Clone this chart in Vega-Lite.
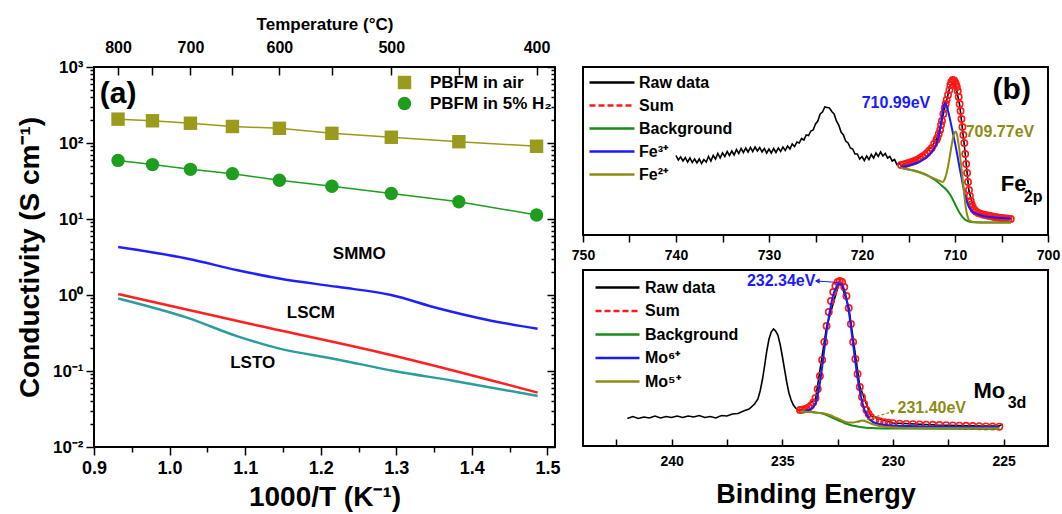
{
  "$schema": "https://vega.github.io/schema/vega-lite/v6.json",
  "background": "white",
  "padding": {"left": 15, "top": 14, "right": 0, "bottom": 5},
  "bounds": "flush",
  "spacing": 28,
  "datasets": {
    "lines": [
      {"s":"SMMO","x":0.932,"y":4.27},{"s":"SMMO","x":1.024,"y":3.0},{"s":"SMMO","x":1.09,"y":2.12},{"s":"SMMO","x":1.145,"y":1.65},{"s":"SMMO","x":1.222,"y":1.28},{"s":"SMMO","x":1.293,"y":1.0},{"s":"SMMO","x":1.355,"y":0.67},{"s":"SMMO","x":1.421,"y":0.47},{"s":"SMMO","x":1.487,"y":0.36},
      {"s":"LSCM","x":0.932,"y":1.03},{"s":"LSCM","x":1.112,"y":0.406},{"s":"LSCM","x":1.29,"y":0.165},{"s":"LSCM","x":1.487,"y":0.052},
      {"s":"LSTO","x":0.932,"y":0.9},{"s":"LSTO","x":1.024,"y":0.5},{"s":"LSTO","x":1.09,"y":0.286},{"s":"LSTO","x":1.143,"y":0.2},{"s":"LSTO","x":1.222,"y":0.142},{"s":"LSTO","x":1.297,"y":0.1},{"s":"LSTO","x":1.377,"y":0.074},{"s":"LSTO","x":1.487,"y":0.047}
    ],
    "pbfm": [
      {"s":"PBFM in air","x":0.9318,"y":206},{"s":"PBFM in air","x":0.9774,"y":196},{"s":"PBFM in air","x":1.0276,"y":182},{"s":"PBFM in air","x":1.0832,"y":165},{"s":"PBFM in air","x":1.1453,"y":156},{"s":"PBFM in air","x":1.2148,"y":134},{"s":"PBFM in air","x":1.2934,"y":119},{"s":"PBFM in air","x":1.3828,"y":104},{"s":"PBFM in air","x":1.4856,"y":90.6},
      {"s":"PBFM in 5% H₂","x":0.9318,"y":59},{"s":"PBFM in 5% H₂","x":0.9774,"y":52},{"s":"PBFM in 5% H₂","x":1.0276,"y":45},{"s":"PBFM in 5% H₂","x":1.0832,"y":39.5},{"s":"PBFM in 5% H₂","x":1.1453,"y":32.4},{"s":"PBFM in 5% H₂","x":1.2148,"y":27},{"s":"PBFM in 5% H₂","x":1.2934,"y":21.6},{"s":"PBFM in 5% H₂","x":1.3828,"y":16.9},{"s":"PBFM in 5% H₂","x":1.4856,"y":11.3}
    ],
    "labA": [{"t":"SMMO","x":1.251,"y":3.49},{"t":"LSCM","x":1.187,"y":0.575},{"t":"LSTO","x":1.11,"y":0.129}],
    "feRaw": [
      {"e":740.0,"i":79.5},{"e":739.75,"i":75},{"e":739.5,"i":78},{"e":739.25,"i":74},{"e":739.0,"i":77.5},{"e":738.75,"i":73},{"e":738.5,"i":77},{"e":738.25,"i":72.5},{"e":738.0,"i":76},{"e":737.75,"i":72},{"e":737.5,"i":76},{"e":737.25,"i":71.5},{"e":737.0,"i":75.5},{"e":736.75,"i":73},{"e":736.5,"i":78.5},{"e":736.25,"i":74},{"e":736.0,"i":79.5},{"e":735.75,"i":76},{"e":735.5,"i":81.5},{"e":735.25,"i":77},{"e":735.0,"i":82},{"e":734.75,"i":78.5},{"e":734.5,"i":83.5},{"e":734.25,"i":79.5},{"e":734.0,"i":84},{"e":733.75,"i":80},{"e":733.5,"i":85.5},{"e":733.25,"i":81.5},{"e":733.0,"i":86.5},{"e":732.75,"i":82.5},{"e":732.5,"i":87},{"e":732.25,"i":83},{"e":732.0,"i":87.5},{"e":731.75,"i":83.5},{"e":731.5,"i":88},{"e":731.25,"i":84},{"e":731.0,"i":87.5},{"e":730.75,"i":83},{"e":730.5,"i":86.5},{"e":730.25,"i":82},{"e":730.0,"i":86},{"e":729.75,"i":82},{"e":729.5,"i":86.5},{"e":729.25,"i":82.5},{"e":729.0,"i":87},{"e":728.75,"i":83.5},{"e":728.5,"i":88},{"e":728.25,"i":84.5},{"e":728.0,"i":89},{"e":727.75,"i":86},{"e":727.5,"i":91},{"e":727.25,"i":88.5},{"e":727.0,"i":93},{"e":726.75,"i":92},{"e":726.5,"i":96.5},{"e":726.25,"i":95},{"e":726.0,"i":100},{"e":725.75,"i":99.5},{"e":725.5,"i":104},{"e":725.25,"i":105},{"e":725.0,"i":111},{"e":724.75,"i":114},{"e":724.5,"i":121},{"e":724.25,"i":123},{"e":724.0,"i":128},{"e":723.75,"i":127.5},{"e":723.5,"i":127},{"e":723.25,"i":123.5},{"e":723.0,"i":121},{"e":722.75,"i":114},{"e":722.5,"i":110},{"e":722.25,"i":103},{"e":722.0,"i":100},{"e":721.75,"i":94},{"e":721.5,"i":92},{"e":721.25,"i":87},{"e":721.0,"i":86},{"e":720.75,"i":81},{"e":720.5,"i":81},{"e":720.25,"i":76},{"e":720.0,"i":78.5},{"e":719.75,"i":74.5},{"e":719.5,"i":79},{"e":719.25,"i":75.5},{"e":719.0,"i":80.5},{"e":718.75,"i":77},{"e":718.5,"i":82},{"e":718.25,"i":78.5},{"e":718.0,"i":83},{"e":717.75,"i":79},{"e":717.5,"i":81.5},{"e":717.25,"i":77},{"e":717.0,"i":78.5},{"e":716.75,"i":74},{"e":716.5,"i":75.5},{"e":716.25,"i":70.5},{"e":716.0,"i":72},{"e":715.75,"i":69},{"e":715.5,"i":71},{"e":715.0,"i":72.5},{"e":714.5,"i":74},{"e":714.0,"i":76.5},{"e":713.5,"i":80},{"e":713.0,"i":84},{"e":712.5,"i":88},{"e":712.0,"i":96},{"e":711.5,"i":111},{"e":711.0,"i":131},{"e":710.5,"i":150},{"e":710.0,"i":153},{"e":709.5,"i":130},{"e":709.0,"i":90},{"e":708.5,"i":44},{"e":708.0,"i":27},{"e":707.5,"i":23},{"e":707.0,"i":21},{"e":706.5,"i":20.5},{"e":706.0,"i":18},{"e":705.5,"i":19.5},{"e":705.0,"i":17},{"e":704.5,"i":18},{"e":704.0,"i":16}
    ],
    "feSum": [
      {"e":715.8,"i":70},{"e":715.5,"i":70.5},{"e":715.25,"i":71.2},{"e":715.0,"i":72},{"e":714.75,"i":72.7},{"e":714.5,"i":73.5},{"e":714.25,"i":74.5},{"e":714.0,"i":75.5},{"e":713.75,"i":77},{"e":713.5,"i":78.5},{"e":713.25,"i":80},{"e":713.0,"i":82},{"e":712.75,"i":84.5},{"e":712.5,"i":87},{"e":712.25,"i":91},{"e":712.0,"i":95},{"e":711.9,"i":97},{"e":711.75,"i":101},{"e":711.6,"i":105},{"e":711.5,"i":110},{"e":711.4,"i":114},{"e":711.25,"i":121},{"e":711.1,"i":127},{"e":711.0,"i":131},{"e":710.9,"i":135},{"e":710.75,"i":140},{"e":710.6,"i":145},{"e":710.5,"i":150},{"e":710.4,"i":153},{"e":710.25,"i":155},{"e":710.1,"i":154.5},{"e":710.0,"i":153},{"e":709.9,"i":151},{"e":709.8,"i":148},{"e":709.7,"i":144},{"e":709.6,"i":138},{"e":709.5,"i":131},{"e":709.4,"i":124},{"e":709.3,"i":116},{"e":709.2,"i":108},{"e":709.1,"i":100},{"e":709.0,"i":92},{"e":708.9,"i":81},{"e":708.8,"i":71},{"e":708.7,"i":62},{"e":708.6,"i":53},{"e":708.5,"i":45},{"e":708.4,"i":39},{"e":708.3,"i":34},{"e":708.2,"i":30.5},{"e":708.1,"i":28},{"e":708.0,"i":26},{"e":707.9,"i":24.8},{"e":707.75,"i":23.5},{"e":707.5,"i":22},{"e":707.25,"i":21.2},{"e":707.0,"i":20.5},{"e":706.75,"i":20},{"e":706.5,"i":19.5},{"e":706.25,"i":19},{"e":706.0,"i":18.5},{"e":705.75,"i":18},{"e":705.5,"i":17.7},{"e":705.25,"i":17.4},{"e":705.0,"i":17.1},{"e":704.75,"i":16.8},{"e":704.5,"i":16.5},{"e":704.25,"i":16.2},{"e":704.0,"i":16}
    ],
    "feFit": [
      {"s":"Background","e":715.8,"i":67},{"s":"Background","e":715,"i":65.5},{"s":"Background","e":714,"i":63.5},{"s":"Background","e":713,"i":60},{"s":"Background","e":712.5,"i":57},{"s":"Background","e":712,"i":54},{"s":"Background","e":711.5,"i":50},{"s":"Background","e":711.25,"i":48},{"s":"Background","e":711,"i":46},{"s":"Background","e":710.5,"i":40},{"s":"Background","e":710,"i":31},{"s":"Background","e":709.5,"i":22},{"s":"Background","e":709,"i":16},{"s":"Background","e":708.5,"i":13.5},{"s":"Background","e":708,"i":12.8},{"s":"Background","e":707,"i":12.5},{"s":"Background","e":704,"i":12.5},
      {"s":"Fe³⁺","e":715.8,"i":67.5},{"s":"Fe³⁺","e":715,"i":69.5},{"s":"Fe³⁺","e":714,"i":72.5},{"s":"Fe³⁺","e":713.5,"i":75},{"s":"Fe³⁺","e":713,"i":78},{"s":"Fe³⁺","e":712.5,"i":83},{"s":"Fe³⁺","e":712.25,"i":86.5},{"s":"Fe³⁺","e":712,"i":91},{"s":"Fe³⁺","e":711.75,"i":99},{"s":"Fe³⁺","e":711.5,"i":112},{"s":"Fe³⁺","e":711.3,"i":125},{"s":"Fe³⁺","e":711.1,"i":132},{"s":"Fe³⁺","e":710.95,"i":130},{"s":"Fe³⁺","e":710.75,"i":124},{"s":"Fe³⁺","e":710.5,"i":114},{"s":"Fe³⁺","e":710.25,"i":103},{"s":"Fe³⁺","e":710.0,"i":92},{"s":"Fe³⁺","e":709.75,"i":80},{"s":"Fe³⁺","e":709.5,"i":67},{"s":"Fe³⁺","e":709.25,"i":55},{"s":"Fe³⁺","e":709.0,"i":43},{"s":"Fe³⁺","e":708.75,"i":34},{"s":"Fe³⁺","e":708.5,"i":28},{"s":"Fe³⁺","e":708.25,"i":24.5},{"s":"Fe³⁺","e":708,"i":22.5},{"s":"Fe³⁺","e":707.5,"i":20.5},{"s":"Fe³⁺","e":707,"i":19},{"s":"Fe³⁺","e":706,"i":17.8},{"s":"Fe³⁺","e":705,"i":17},{"s":"Fe³⁺","e":704,"i":16.5},
      {"s":"Fe²⁺","e":715.8,"i":67},{"s":"Fe²⁺","e":715,"i":65.5},{"s":"Fe²⁺","e":714.5,"i":64.5},{"s":"Fe²⁺","e":714,"i":63},{"s":"Fe²⁺","e":713.5,"i":61.5},{"s":"Fe²⁺","e":713,"i":59.5},{"s":"Fe²⁺","e":712.5,"i":57.5},{"s":"Fe²⁺","e":712,"i":55.5},{"s":"Fe²⁺","e":711.6,"i":54},{"s":"Fe²⁺","e":711.3,"i":53},{"s":"Fe²⁺","e":711.1,"i":56},{"s":"Fe²⁺","e":710.9,"i":62},{"s":"Fe²⁺","e":710.7,"i":71},{"s":"Fe²⁺","e":710.5,"i":82},{"s":"Fe²⁺","e":710.3,"i":93},{"s":"Fe²⁺","e":710.1,"i":101},{"s":"Fe²⁺","e":709.95,"i":103.5},{"s":"Fe²⁺","e":709.8,"i":101},{"s":"Fe²⁺","e":709.6,"i":90},{"s":"Fe²⁺","e":709.4,"i":75},{"s":"Fe²⁺","e":709.2,"i":58},{"s":"Fe²⁺","e":709.0,"i":40},{"s":"Fe²⁺","e":708.8,"i":25},{"s":"Fe²⁺","e":708.6,"i":17},{"s":"Fe²⁺","e":708.4,"i":14},{"s":"Fe²⁺","e":708,"i":13},{"s":"Fe²⁺","e":707,"i":12.6},{"s":"Fe²⁺","e":706,"i":12.5},{"s":"Fe²⁺","e":704,"i":12.5}
    ],
    "moRaw": [
      {"e":242.0,"i":27.5},{"e":241.75,"i":29.5},{"e":241.5,"i":27.5},{"e":241.25,"i":29},{"e":241.0,"i":28},{"e":240.75,"i":30},{"e":240.5,"i":28},{"e":240.25,"i":29.5},{"e":240.0,"i":28.5},{"e":239.75,"i":30},{"e":239.5,"i":28.5},{"e":239.25,"i":30},{"e":239.0,"i":29},{"e":238.75,"i":30.5},{"e":238.5,"i":28.5},{"e":238.25,"i":29.5},{"e":238.0,"i":28},{"e":237.75,"i":30.5},{"e":237.5,"i":30},{"e":237.25,"i":32},{"e":237.0,"i":32.5},{"e":236.75,"i":35},{"e":236.5,"i":37},{"e":236.25,"i":42},{"e":236.1,"i":47},{"e":236.0,"i":55},{"e":235.9,"i":66},{"e":235.8,"i":80},{"e":235.7,"i":95},{"e":235.6,"i":107},{"e":235.5,"i":114},{"e":235.4,"i":117},{"e":235.3,"i":115},{"e":235.2,"i":111},{"e":235.1,"i":102},{"e":235.0,"i":90},{"e":234.9,"i":77},{"e":234.8,"i":64},{"e":234.7,"i":53},{"e":234.6,"i":46},{"e":234.5,"i":41},{"e":234.4,"i":38},{"e":234.3,"i":36},{"e":234.2,"i":35.5},{"e":233.5,"i":47},{"e":233.0,"i":119},{"e":232.4,"i":166},{"e":232.0,"i":139},{"e":231.5,"i":60},{"e":231.0,"i":30},{"e":230.0,"i":23},{"e":228.0,"i":21},{"e":226.0,"i":20},{"e":225.2,"i":20},{"e":225.05,"i":22}
    ],
    "moSum": [
      {"e":234.2,"i":36},{"e":234.1,"i":36.3},{"e":234.0,"i":36.7},{"e":233.9,"i":37.5},{"e":233.8,"i":38.5},{"e":233.7,"i":40.5},{"e":233.6,"i":43.5},{"e":233.5,"i":48},{"e":233.4,"i":57},{"e":233.3,"i":70},{"e":233.2,"i":86},{"e":233.1,"i":104},{"e":233.0,"i":120},{"e":232.9,"i":134},{"e":232.8,"i":145},{"e":232.7,"i":154},{"e":232.6,"i":160},{"e":232.5,"i":164},{"e":232.4,"i":165},{"e":232.3,"i":164},{"e":232.2,"i":159},{"e":232.1,"i":150},{"e":232.0,"i":138},{"e":231.9,"i":122},{"e":231.8,"i":104},{"e":231.7,"i":87},{"e":231.6,"i":72},{"e":231.5,"i":59},{"e":231.4,"i":49},{"e":231.3,"i":42},{"e":231.2,"i":36},{"e":231.1,"i":32},{"e":231.0,"i":29},{"e":230.8,"i":26},{"e":230.6,"i":24.7},{"e":230.4,"i":23.8},{"e":230.2,"i":23.2},{"e":230.0,"i":22.8},{"e":229.7,"i":22.4},{"e":229.4,"i":22.1},{"e":229.1,"i":21.9},{"e":228.8,"i":21.6},{"e":228.5,"i":21.4},{"e":228.2,"i":21.2},{"e":227.9,"i":21},{"e":227.6,"i":20.8},{"e":227.3,"i":20.6},{"e":227.0,"i":20.4},{"e":226.7,"i":20.2},{"e":226.4,"i":20},{"e":226.1,"i":19.8},{"e":225.8,"i":19.6},{"e":225.5,"i":19.5},{"e":225.2,"i":19.3}
    ],
    "moFit": [
      {"s":"Background","e":234.2,"i":34.5},{"s":"Background","e":233.8,"i":34},{"s":"Background","e":233.5,"i":33.5},{"s":"Background","e":233.2,"i":32.5},{"s":"Background","e":233.0,"i":31},{"s":"Background","e":232.8,"i":29},{"s":"Background","e":232.6,"i":27},{"s":"Background","e":232.4,"i":25},{"s":"Background","e":232.2,"i":23},{"s":"Background","e":232.0,"i":21.5},{"s":"Background","e":231.8,"i":20.3},{"s":"Background","e":231.6,"i":19.5},{"s":"Background","e":231.4,"i":18.8},{"s":"Background","e":231.0,"i":18},{"s":"Background","e":230.5,"i":17.6},{"s":"Background","e":230.0,"i":17.5},{"s":"Background","e":225.2,"i":17.3},
      {"s":"Mo⁶⁺","e":234.0,"i":35},{"s":"Mo⁶⁺","e":233.8,"i":36},{"s":"Mo⁶⁺","e":233.6,"i":39},{"s":"Mo⁶⁺","e":233.5,"i":43},{"s":"Mo⁶⁺","e":233.4,"i":51},{"s":"Mo⁶⁺","e":233.3,"i":63},{"s":"Mo⁶⁺","e":233.2,"i":79},{"s":"Mo⁶⁺","e":233.1,"i":97},{"s":"Mo⁶⁺","e":233.0,"i":114},{"s":"Mo⁶⁺","e":232.9,"i":129},{"s":"Mo⁶⁺","e":232.8,"i":141},{"s":"Mo⁶⁺","e":232.7,"i":151},{"s":"Mo⁶⁺","e":232.6,"i":157},{"s":"Mo⁶⁺","e":232.5,"i":161},{"s":"Mo⁶⁺","e":232.4,"i":162},{"s":"Mo⁶⁺","e":232.3,"i":161},{"s":"Mo⁶⁺","e":232.2,"i":156},{"s":"Mo⁶⁺","e":232.1,"i":147},{"s":"Mo⁶⁺","e":232.0,"i":135},{"s":"Mo⁶⁺","e":231.9,"i":119},{"s":"Mo⁶⁺","e":231.8,"i":101},{"s":"Mo⁶⁺","e":231.7,"i":84},{"s":"Mo⁶⁺","e":231.6,"i":68},{"s":"Mo⁶⁺","e":231.5,"i":55},{"s":"Mo⁶⁺","e":231.4,"i":45},{"s":"Mo⁶⁺","e":231.3,"i":37},{"s":"Mo⁶⁺","e":231.2,"i":32},{"s":"Mo⁶⁺","e":231.1,"i":28},{"s":"Mo⁶⁺","e":231.0,"i":25.5},{"s":"Mo⁶⁺","e":230.8,"i":23},{"s":"Mo⁶⁺","e":230.5,"i":21.5},{"s":"Mo⁶⁺","e":230.0,"i":20.5},{"s":"Mo⁶⁺","e":229.0,"i":19.8},{"s":"Mo⁶⁺","e":227.0,"i":19.3},{"s":"Mo⁶⁺","e":225.2,"i":19},
      {"s":"Mo⁵⁺","e":234.2,"i":34.5},{"s":"Mo⁵⁺","e":233.8,"i":34},{"s":"Mo⁵⁺","e":233.5,"i":33.5},{"s":"Mo⁵⁺","e":233.2,"i":33},{"s":"Mo⁵⁺","e":233.0,"i":32},{"s":"Mo⁵⁺","e":232.8,"i":30.5},{"s":"Mo⁵⁺","e":232.6,"i":28.5},{"s":"Mo⁵⁺","e":232.4,"i":26.5},{"s":"Mo⁵⁺","e":232.2,"i":24.5},{"s":"Mo⁵⁺","e":232.0,"i":23.5},{"s":"Mo⁵⁺","e":231.8,"i":23.5},{"s":"Mo⁵⁺","e":231.6,"i":24.5},{"s":"Mo⁵⁺","e":231.4,"i":25.5},{"s":"Mo⁵⁺","e":231.2,"i":24.5},{"s":"Mo⁵⁺","e":231.0,"i":22.5},{"s":"Mo⁵⁺","e":230.8,"i":21},{"s":"Mo⁵⁺","e":230.5,"i":19.5},{"s":"Mo⁵⁺","e":230.0,"i":18.5},{"s":"Mo⁵⁺","e":229.0,"i":18},{"s":"Mo⁵⁺","e":227.0,"i":17.8},{"s":"Mo⁵⁺","e":225.2,"i":17.8}
    ]
  },
  "hconcat": [
    {
      "width": 461,
      "height": 380,
      "layer": [
        {
          "data": {"name": "lines"},
          "mark": {"type": "line", "strokeWidth": 2.5, "interpolate": "monotone"},
          "encoding": {
            "x": {"field": "x", "type": "quantitative", "scale": {"domain": [0.9, 1.51], "nice": false, "zero": false},
              "axis": {"orient": "bottom", "values": [0.9, 1.0, 1.1, 1.2, 1.3, 1.4, 1.5], "format": ".1f", "tickSize": 8, "labelPadding": 4, "labelFontSize": 18, "title": "1000/T (K⁻¹)", "titleFontSize": 28, "titlePadding": 6}},
            "y": {"field": "y", "type": "quantitative", "scale": {"type": "log", "domain": [0.01, 1000], "nice": false},
              "axis": {"orient": "left", "values": [0.01, 0.1, 1, 10, 100, 1000], "labelExpr": "datum.value >= 1000 ? '10³' : datum.value >= 100 ? '10²' : datum.value >= 10 ? '10¹' : datum.value >= 1 ? '10⁰' : datum.value >= 0.1 ? '10⁻¹' : '10⁻²'", "tickSize": 8, "labelPadding": 3, "labelFontSize": 17, "title": "Conductivity (S cm⁻¹)", "titleFontSize": 28, "titlePadding": 8}},
            "stroke": {"field": "s", "type": "nominal", "scale": {"domain": ["SMMO", "LSCM", "LSTO", "PBFM in air", "PBFM in 5% H₂"], "range": ["#2020ff", "#ff2020", "#2a9d9d", "#9a9a1c", "#1e9e1e"]}, "legend": null}
          }
        },
        {
          "data": {"name": "pbfm"},
          "mark": {"type": "line", "strokeWidth": 1.5},
          "encoding": {
            "x": {"field": "x", "type": "quantitative",
              "axis": {"orient": "top", "values": [0.931836, 0.977374, 1.027591, 1.083248, 1.145279, 1.214846, 1.29341, 1.382839, 1.485553], "labelExpr": "round(1000/datum.value - 273.15) % 100 == 0 ? format(round(1000/datum.value - 273.15), 'd') : ''", "tickSize": -8, "labelPadding": 20, "labelFontSize": 16, "title": "Temperature (°C)", "titleFontSize": 17, "titlePadding": 6}},
            "y": {"field": "y", "type": "quantitative",
              "axis": {"orient": "right", "values": [0.01, 0.1, 1, 10, 100, 1000], "labels": false, "tickSize": -8, "title": null}},
            "stroke": {"field": "s", "type": "nominal", "legend": null}
          }
        },
        {
          "data": {"name": "pbfm"},
          "mark": {"type": "point", "filled": true, "opacity": 1, "size": 180},
          "encoding": {
            "x": {"field": "x", "type": "quantitative",
              "axis": {"orient": "bottom", "values": [0.95, 1.05, 1.15, 1.25, 1.35, 1.45], "labels": false, "tickSize": 5, "title": null}},
            "y": {"field": "y", "type": "quantitative",
              "axis": {"orient": "left", "values": [0.02,0.03,0.04,0.05,0.06,0.07,0.08,0.09,0.2,0.3,0.4,0.5,0.6,0.7,0.8,0.9,2,3,4,5,6,7,8,9,20,30,40,50,60,70,80,90,200,300,400,500,600,700,800,900], "labels": false, "tickSize": 4, "title": null}},
            "color": {"field": "s", "type": "nominal", "scale": {"domain": ["PBFM in air", "PBFM in 5% H₂"], "range": ["#9a9a1c", "#1e9e1e"]},
              "legend": {"title": null, "orient": "none", "legendX": 302, "legendY": 7, "labelFontSize": 17, "symbolSize": 180, "rowPadding": 3, "labelOffset": 17}},
            "shape": {"field": "s", "type": "nominal", "scale": {"domain": ["PBFM in air", "PBFM in 5% H₂"], "range": ["square", "circle"]},
              "legend": {"title": null, "orient": "none", "legendX": 302, "legendY": 7, "labelFontSize": 17, "symbolSize": 180, "rowPadding": 3, "labelOffset": 17}}
          }
        },
        {
          "data": {"name": "labA"},
          "mark": {"type": "text", "fontSize": 17, "align": "center", "baseline": "middle", "color": "black"},
          "encoding": {
            "x": {"field": "x", "type": "quantitative", "axis": null},
            "y": {"field": "y", "type": "quantitative",
              "axis": {"orient": "right", "values": [0.02,0.03,0.04,0.05,0.06,0.07,0.08,0.09,0.2,0.3,0.4,0.5,0.6,0.7,0.8,0.9,2,3,4,5,6,7,8,9,20,30,40,50,60,70,80,90,200,300,400,500,600,700,800,900], "labels": false, "tickSize": -4, "title": null}},
            "text": {"field": "t"}
          }
        },
        {
          "data": {"values": [{"t": "(a)", "x": 0.932, "y": 440}]},
          "mark": {"type": "text", "fontSize": 30, "align": "center", "baseline": "middle", "color": "black"},
          "encoding": {
            "x": {"field": "x", "type": "quantitative", "axis": null},
            "y": {"field": "y", "type": "quantitative", "axis": null},
            "text": {"field": "t"}
          }
        }
      ],
      "resolve": {"axis": {"x": "independent", "y": "independent"}}
    },
    {
      "spacing": 6,
      "resolve": {"scale": {"color": "independent"}, "legend": {"color": "independent"}},
      "vconcat": [
        {
          "width": 465,
          "height": 168,
          "encoding": {
            "x": {"field": "e", "type": "quantitative", "scale": {"domain": [700, 750], "reverse": true, "nice": false, "zero": false},
              "axis": {"orient": "bottom", "values": [750,745,740,735,730,725,720,715,710,705,700], "labelExpr": "datum.value % 10 == 0 ? datum.label : ''", "tickSize": 7, "labelPadding": 6, "labelFontSize": 14, "title": null}},
            "y": {"field": "i", "type": "quantitative", "scale": {"domain": [0, 168], "nice": false, "zero": false}, "axis": null}
          },
          "layer": [
            {
              "data": {"name": "feRaw"},
              "mark": {"type": "line", "strokeWidth": 1.6, "color": "black"}
            },
            {
              "data": {"name": "feSum"},
              "mark": {"type": "point", "filled": false, "size": 40, "strokeWidth": 1.6, "color": "#ff1a1a", "opacity": 1}
            },
            {
              "data": {"name": "feFit"},
              "mark": {"type": "line", "strokeWidth": 2, "interpolate": "monotone"},
              "encoding": {
                "color": {"field": "s", "type": "nominal",
                  "scale": {"domain": ["Raw data", "Sum", "Background", "Fe³⁺", "Fe²⁺"], "range": ["#000000", "#ff1a1a", "#1a8c1a", "#1a1aff", "#8c8c14"]},
                  "legend": {"title": null, "orient": "top-left", "offset": 6, "symbolType": "M-1.125,0H4.5", "symbolSize": 256, "symbolStrokeWidth": 2.5, "labelFontSize": 16, "rowPadding": 5, "labelOffset": 31,
                    "encode": {"symbols": {"update": {"strokeDash": {"signal": "datum.value === 'Sum' ? [6, 3] : [1, 0]"}}}}}}
              }
            },
            {
              "data": {"values": [{"t": "710.99eV", "e": 716.35, "i": 131.7}]},
              "mark": {"type": "text", "fontSize": 16, "color": "#1a1aff", "align": "center", "baseline": "middle"},
              "encoding": {"text": {"field": "t"}}
            },
            {
              "data": {"values": [{"t": "709.77eV", "e": 708.85, "i": 102.7}]},
              "mark": {"type": "text", "fontSize": 16, "color": "#8c8c14", "align": "left", "baseline": "middle"},
              "encoding": {"text": {"field": "t"}}
            },
            {
              "data": {"values": [{"t": "(b)", "e": 703.9, "i": 145}]},
              "mark": {"type": "text", "fontSize": 30, "color": "black", "align": "center", "baseline": "middle"},
              "encoding": {"text": {"field": "t"}}
            },
            {
              "data": {"values": [{"t": "Fe", "e": 703.7, "i": 51}]},
              "mark": {"type": "text", "fontSize": 22, "color": "black", "align": "center", "baseline": "middle"},
              "encoding": {"text": {"field": "t"}}
            },
            {
              "data": {"values": [{"t": "2p", "e": 701.6, "i": 38}]},
              "mark": {"type": "text", "fontSize": 16, "color": "black", "align": "center", "baseline": "middle"},
              "encoding": {"text": {"field": "t"}}
            }
          ]
        },
        {
          "width": 465,
          "height": 176,
          "encoding": {
            "x": {"field": "e", "type": "quantitative", "scale": {"domain": [223, 244], "reverse": true, "nice": false, "zero": false},
              "axis": {"orient": "bottom", "values": [242.5,240,237.5,235,232.5,230,227.5,225], "labelExpr": "datum.value % 5 == 0 ? datum.label : ''", "tickSize": -7, "labelPadding": 15, "labelFontSize": 14, "title": "Binding Energy", "titleFontSize": 27, "titlePadding": 13}},
            "y": {"field": "i", "type": "quantitative", "scale": {"domain": [0, 176], "nice": false, "zero": false}, "axis": null}
          },
          "layer": [
            {
              "data": {"name": "moRaw"},
              "mark": {"type": "line", "strokeWidth": 1.6, "color": "black"}
            },
            {
              "data": {"name": "moSum"},
              "mark": {"type": "point", "filled": false, "size": 40, "strokeWidth": 1.6, "color": "#ff1a1a", "opacity": 1}
            },
            {
              "data": {"name": "moFit"},
              "mark": {"type": "line", "strokeWidth": 2, "interpolate": "monotone"},
              "encoding": {
                "color": {"field": "s", "type": "nominal",
                  "scale": {"domain": ["Raw data", "Sum", "Background", "Mo⁶⁺", "Mo⁵⁺"], "range": ["#000000", "#ff1a1a", "#1a8c1a", "#1a1aff", "#8c8c14"]},
                  "legend": {"title": null, "orient": "top-left", "offset": 8, "symbolType": "M-0.625,0H4.875", "symbolSize": 256, "symbolStrokeWidth": 2.5, "labelFontSize": 16, "rowPadding": 5.5, "labelOffset": 35,
                    "encode": {"symbols": {"update": {"strokeDash": {"signal": "datum.value === 'Sum' ? [6, 3] : [1, 0]"}}}}}}
              }
            },
            {
              "data": {"values": [{"e": 233.47, "i": 165, "e2": 232.45, "i2": 163.5}]},
              "mark": {"type": "rule", "color": "#1a1aff", "strokeWidth": 1},
              "encoding": {"x2": {"field": "e2"}, "y2": {"field": "i2"}}
            },
            {
              "data": {"values": [{"e": 231.6, "i": 23.5, "e2": 229.95, "i2": 35}]},
              "mark": {"type": "rule", "color": "#8c8c14", "strokeWidth": 1.2, "strokeDash": [3, 2]},
              "encoding": {"x2": {"field": "e2"}, "y2": {"field": "i2"}}
            },
            {
              "data": {"values": [{"e": 233.42, "i": 165}]},
              "mark": {"type": "point", "shape": "triangle-left", "filled": true, "size": 30, "color": "#1a1aff", "opacity": 1}
            },
            {
              "data": {"values": [{"e": 230.0, "i": 34.7}]},
              "mark": {"type": "point", "shape": "triangle-right", "angle": -25, "filled": true, "size": 30, "color": "#8c8c14", "opacity": 1}
            },
            {
              "data": {"values": [{"t": "232.34eV", "e": 235.05, "i": 165}]},
              "mark": {"type": "text", "fontSize": 16, "color": "#1a1aff", "align": "center", "baseline": "middle"},
              "encoding": {"text": {"field": "t"}}
            },
            {
              "data": {"values": [{"t": "231.40eV", "e": 228.25, "i": 38.3}]},
              "mark": {"type": "text", "fontSize": 16, "color": "#8c8c14", "align": "center", "baseline": "middle"},
              "encoding": {"text": {"field": "t"}}
            },
            {
              "data": {"values": [{"t": "Mo", "e": 225.65, "i": 55}]},
              "mark": {"type": "text", "fontSize": 22, "color": "black", "align": "center", "baseline": "middle"},
              "encoding": {"text": {"field": "t"}}
            },
            {
              "data": {"values": [{"t": "3d", "e": 224.4, "i": 43}]},
              "mark": {"type": "text", "fontSize": 16, "color": "black", "align": "center", "baseline": "middle"},
              "encoding": {"text": {"field": "t"}}
            }
          ]
        }
      ]
    }
  ],
  "resolve": {"scale": {"color": "independent", "stroke": "independent", "shape": "independent"}, "legend": {"color": "independent", "stroke": "independent", "shape": "independent"}},
  "config": {
    "font": "Liberation Sans",
    "view": {"stroke": "black", "strokeWidth": 2},
    "axis": {"grid": false, "domain": false, "labelFont": "Liberation Sans", "labelFontWeight": "bold", "labelColor": "black", "titleFont": "Liberation Sans", "titleFontWeight": "bold", "titleColor": "black", "tickColor": "black", "tickWidth": 1.5, "labelOverlap": false, "labelFlush": false, "labelBound": false},
    "legend": {"labelFont": "Liberation Sans", "labelFontWeight": "bold", "labelColor": "black", "labelLimit": 300},
    "text": {"font": "Liberation Sans", "fontWeight": "bold"}
  }
}
